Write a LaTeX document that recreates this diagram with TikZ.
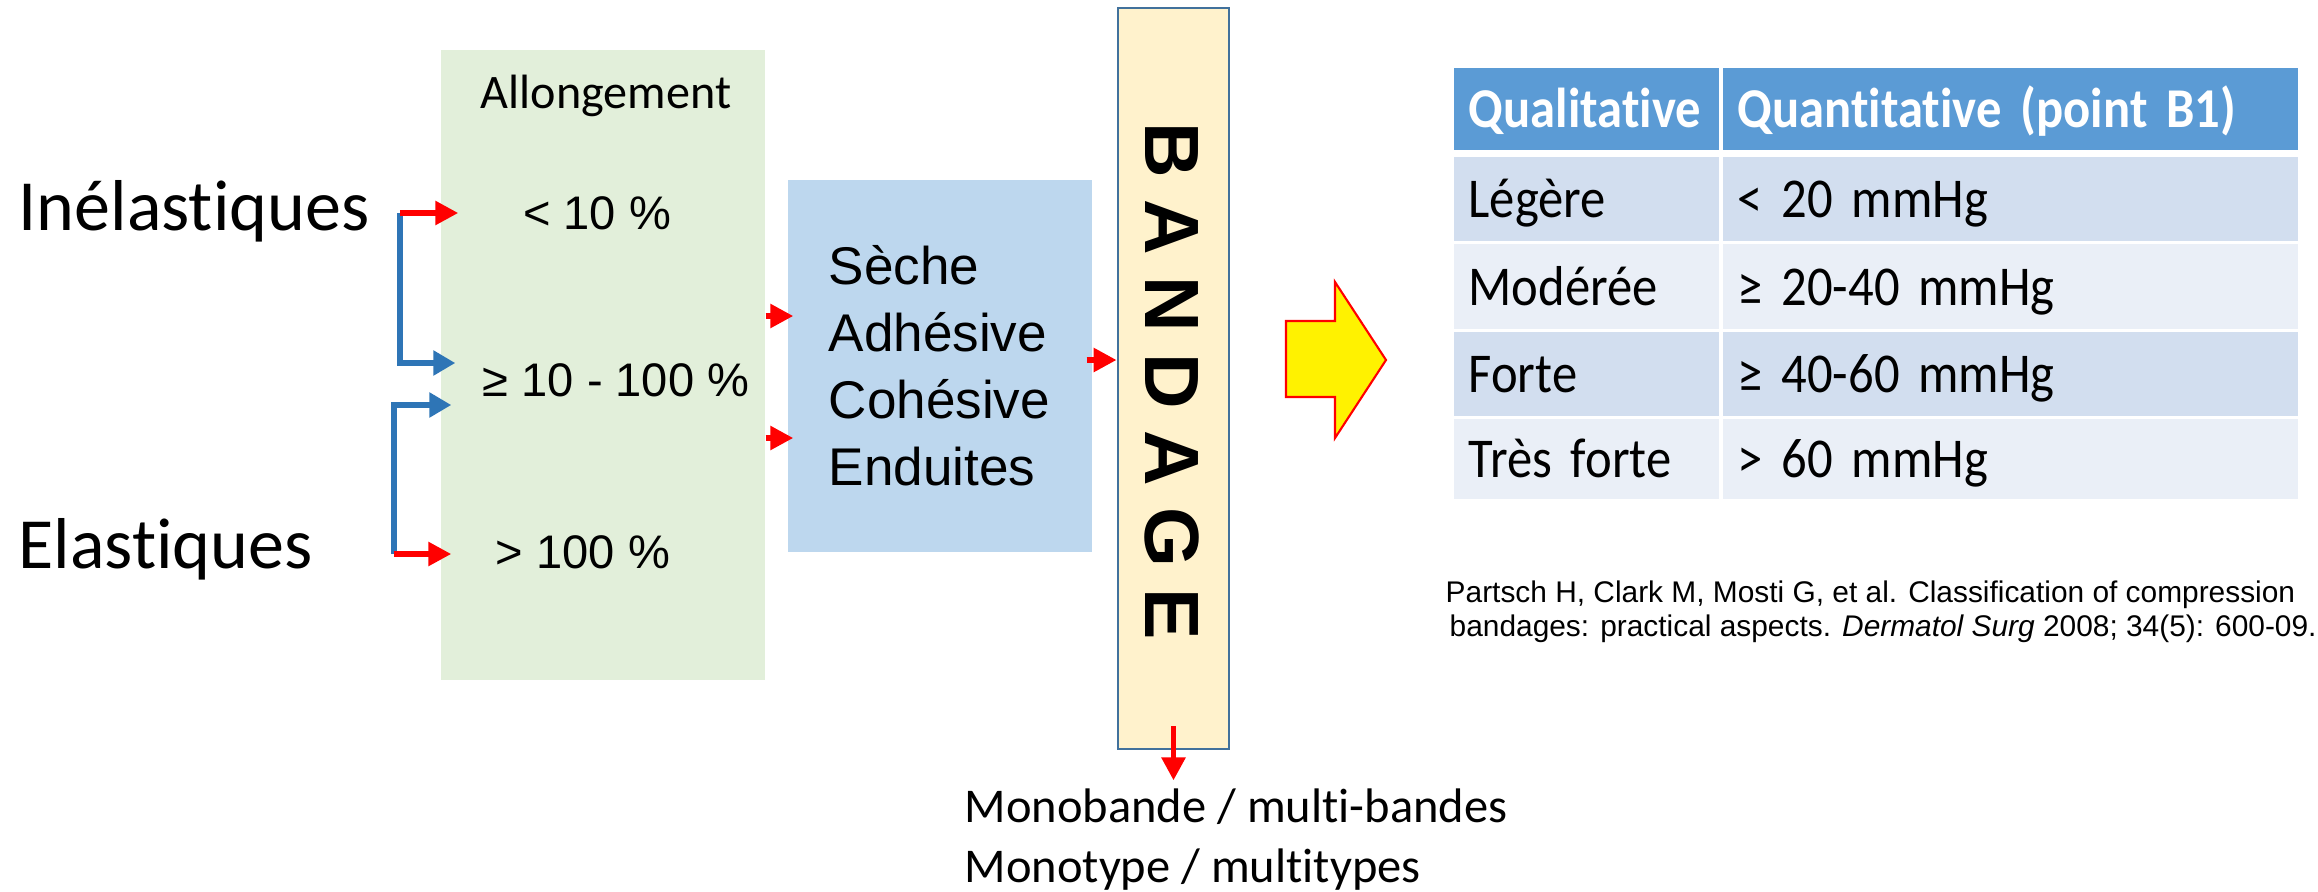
\documentclass[tikz,border=0pt]{standalone}
\usepackage{fontspec}
\setmainfont{Liberation Sans}
\newfontfamily\calibri[Ligatures=NoCommon]{Carlito}
\newfontfamily\calibricond[Ligatures=NoCommon,FakeStretch=0.9]{Carlito}
\usetikzlibrary{arrows.meta,positioning}

\definecolor{greenbox}{HTML}{E2EFDA}
\definecolor{bluebox}{HTML}{BDD7EE}
\definecolor{bandfill}{HTML}{FFF2CC}
\definecolor{banddraw}{HTML}{41719C}
\definecolor{bracket}{HTML}{2E75B6}
\definecolor{headblue}{HTML}{5B9BD5}
\definecolor{rowdark}{HTML}{D2DEEF}
\definecolor{rowlight}{HTML}{EAEFF7}

\begin{document}
\begin{tikzpicture}[red arrow/.style={draw=red, line width=1.6pt, -{Triangle[length=2.3mm,width=2.3mm]}}, blue arrow/.style={draw=bracket, line width=1.6pt, -{Triangle[length=2.2mm,width=2.4mm]}}, big text/.style={font=\calibri\fontsize{20.5}{24}\selectfont, inner sep=0pt, anchor=base west}, pct text/.style={font=\fontsize{13.4}{16}\selectfont, inner sep=0pt, anchor=base}, kind text/.style={font=\fontsize{15.1}{18}\selectfont, inner sep=0pt, anchor=base west}, cell node/.style={anchor=north west, inner xsep=0.15cm, inner ysep=0pt, align=left, text height=0.45cm, text depth=0.07cm, font=\calibricond\fontsize{16}{19}\selectfont}, head node/.style={cell node, fill=headblue, text=white, font=\calibricond\bfseries\fontsize{16}{19}\selectfont}]

  \useasboundingbox[fill=white] (0,0) rectangle (23.18,-8.92);

  % boxes
  \node[fill=greenbox, minimum width=3.24cm, minimum height=6.30cm, inner sep=0] (elong) at (6.03,-3.65) {};
  \node[fill=bluebox, minimum width=3.04cm, minimum height=3.72cm, inner sep=0] (kinds) at (9.40,-3.66) {};
  \node[draw=banddraw, fill=bandfill, line width=0.8pt, minimum width=1.11cm, minimum height=7.41cm, inner sep=0] (band) at (11.735,-3.785) {};

  % left labels
  \node[big text] (inel) at (0.18,-2.30) {Inélastiques};
  \node[big text] (elas) at (0.18,-5.68) {Elastiques};

  \node[font=\calibri\fontsize{13.7}{16}\selectfont, inner sep=0pt, anchor=base] (allong) at (6.06,-1.08) {Allongement};
  \node[pct text] (lt10) at (5.97,-2.29) {< 10 \%};
  \node[pct text] (mid) at (6.16,-3.96) {≥ 10 - 100 \%};
  \node[pct text] (gt100) at (5.83,-5.68) {> 100 \%};

  \node[kind text] (seche) at (8.28,-2.84) {Sèche};
  \node[kind text] (adhes) at ([yshift=-0.67cm]seche.base west) {Adhésive};
  \node[kind text] (cohes) at ([yshift=-0.67cm]adhes.base west) {Cohésive};
  \node[kind text] (endui) at ([yshift=-0.67cm]cohes.base west) {Enduites};

  \node[rotate=-90, anchor=base, inner sep=0pt, font=\bfseries\fontsize{21.9}{26}\selectfont] (bandtxt) at (11.45,-3.81) {B A N D A G E};

  \node[font=\calibri\fontsize{13.8}{16}\selectfont, inner sep=0pt, anchor=base west] (mono) at (9.64,-8.22) {Monobande / multi-bandes};
  \node[font=\calibri\fontsize{13.8}{16}\selectfont, inner sep=0pt, anchor=base west] (monot) at ([yshift=-0.60cm]mono.base west) {Monotype / multitypes};

  % brackets and arrows
  \coordinate (inelfork) at (4.00,-2.13);
  \coordinate (elasfork) at (3.94,-5.54);
  \draw[blue arrow, shorten >=-0.15cm] (inelfork) |- (elong.west |- 0,-3.63);
  \draw[red arrow, shorten >=-0.18cm] (inelfork) -- (inelfork -| elong.west);
  \draw[blue arrow, shorten >=-0.11cm] (elasfork) |- (elong.west |- 0,-4.05);
  \draw[red arrow, shorten >=-0.11cm] (elasfork) -- (elasfork -| elong.west);

  \draw[red arrow, shorten >=-0.06cm] (elong.east |- 0,-3.16) -- (kinds.west |- 0,-3.16);
  \draw[red arrow, shorten >=-0.06cm] (elong.east |- 0,-4.38) -- (kinds.west |- 0,-4.38);
  \draw[red arrow] ([xshift=-0.06cm]kinds.east |- 0,-3.60) -- (band.west |- 0,-3.60);
  \draw[red arrow] ([yshift=0.24cm]band.south) -- ([yshift=-0.30cm]band.south);

  % big yellow arrow
  \draw[fill=yellow, draw=red, line width=0.6pt] (12.86,-3.21) -- (13.35,-3.21) -- (13.35,-2.82) -- (13.86,-3.60) -- (13.35,-4.38) -- (13.35,-3.97) -- (12.86,-3.97) -- cycle;

  % table
  \node[head node, text width=2.35cm, minimum height=0.82cm] (h1) at (14.53,-0.67) {Qualitative};
  \node[head node, text width=5.45cm, minimum height=0.82cm] (h2) at (17.22,-0.67) {Quantitative (point B1)};
  \node[cell node, fill=rowdark, text width=2.35cm, minimum height=0.84cm] (a1) at (14.53,-1.56) {Légère};
  \node[cell node, fill=rowdark, text width=5.45cm, minimum height=0.84cm] (b1) at (17.22,-1.56) {< 20 mmHg};
  \node[cell node, fill=rowlight, text width=2.35cm, minimum height=0.85cm] (a2) at (14.53,-2.43) {Modérée};
  \node[cell node, fill=rowlight, text width=5.45cm, minimum height=0.85cm] (b2) at (17.22,-2.43) {≥ 20-40 mmHg};
  \node[cell node, fill=rowdark, text width=2.35cm, minimum height=0.84cm] (a3) at (14.53,-3.31) {Forte};
  \node[cell node, fill=rowdark, text width=5.45cm, minimum height=0.84cm] (b3) at (17.22,-3.31) {≥ 40-60 mmHg};
  \node[cell node, fill=rowlight, text width=2.35cm, minimum height=0.80cm] (a4) at (14.53,-4.18) {Très forte};
  \node[cell node, fill=rowlight, text width=5.45cm, minimum height=0.80cm] (b4) at (17.22,-4.18) {> 60 mmHg};

  % reference
  \node[font=\fontsize{8.5}{10}\selectfont, inner sep=0pt, anchor=base west] (ref1) at (14.45,-6.02) {Partsch H, Clark M, Mosti G, et al. Classification of compression};
  \node[font=\fontsize{8.5}{10}\selectfont, inner sep=0pt, anchor=base west] (ref2) at (14.49,-6.36) {bandages: practical aspects. \textit{Dermatol Surg} 2008; 34(5): 600-09.};
\end{tikzpicture}
\end{document}
